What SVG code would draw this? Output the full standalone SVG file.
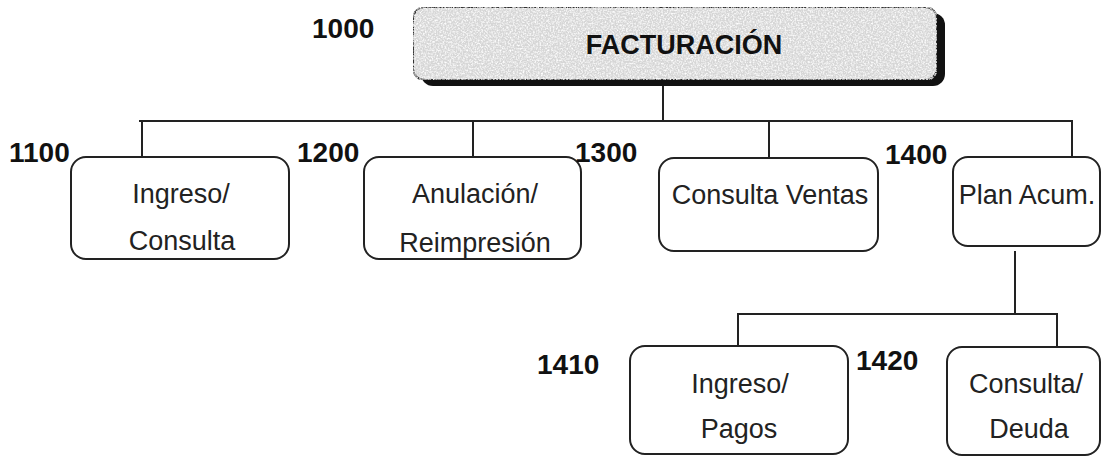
<svg xmlns="http://www.w3.org/2000/svg" width="1102" height="457" viewBox="0 0 1102 457">
  <defs>
    <filter id="grain" x="0" y="0" width="100%" height="100%">
      <feTurbulence type="fractalNoise" baseFrequency="0.6" numOctaves="2" seed="3" result="n"/>
      <feColorMatrix in="n" type="matrix" values="0 0 0 0 1  0 0 0 0 1  0 0 0 0 1  0 0 0 -2.2 1.35" result="w"/>
      <feComposite in="w" in2="SourceGraphic" operator="in" result="wc"/>
      <feMerge><feMergeNode in="SourceGraphic"/><feMergeNode in="wc"/></feMerge>
    </filter>
  </defs>
  <style>
    .box { fill: #ffffff; stroke: #222222; stroke-width: 2; }
    .lbl { font-family: "Liberation Sans", Arial, sans-serif; font-size: 27px; fill: #222222; text-anchor: middle; }
    .num { font-family: "Liberation Sans", Arial, sans-serif; font-size: 28px; font-weight: bold; fill: #111111; }
    .conn { stroke: #222222; stroke-width: 2; fill: none; }
  </style>
  <rect width="1102" height="457" fill="#ffffff"/>

  <g id="connectors">
    <line class="conn" x1="663" y1="85" x2="663" y2="121"/>
    <line class="conn" x1="139" y1="121" x2="1073" y2="121"/>
    <line class="conn" x1="142" y1="121" x2="142" y2="157"/>
    <line class="conn" x1="473" y1="121" x2="473" y2="157"/>
    <line class="conn" x1="769" y1="121" x2="769" y2="158"/>
    <line class="conn" x1="1072" y1="121" x2="1072" y2="157"/>
    <line class="conn" x1="1015" y1="251" x2="1015" y2="314"/>
    <line class="conn" x1="737" y1="314" x2="1058" y2="314"/>
    <line class="conn" x1="738" y1="314" x2="738" y2="346"/>
    <line class="conn" x1="1057" y1="314" x2="1057" y2="347"/>
  </g>

  <g id="n1000">
    <rect x="421" y="13" width="524" height="73" rx="12" fill="#111111"/>
    <rect x="413" y="7" width="524" height="73" rx="12" fill="#d6d6d6" stroke="#333333" stroke-width="2" filter="url(#grain)"/>
    <text class="num" x="312" y="38">1000</text>
    <text x="684" y="54" font-family="Liberation Sans, Arial, sans-serif" font-size="27" font-weight="bold" fill="#111111" text-anchor="middle">FACTURACIÓN</text>
  </g>

  <g id="n1100">
    <rect class="box" x="71" y="157" width="218" height="102" rx="15"/>
    <text class="num" x="9" y="162">1100</text>
    <text class="lbl" x="181" y="203">Ingreso/</text>
    <text class="lbl" x="182" y="250">Consulta</text>
  </g>

  <g id="n1200">
    <rect class="box" x="364" y="157" width="217" height="102" rx="15"/>
    <text class="num" x="297" y="162">1200</text>
    <text class="lbl" x="475" y="203">Anulación/</text>
    <text class="lbl" x="475" y="252">Reimpresión</text>
  </g>

  <g id="n1300">
    <rect class="box" x="659" y="158" width="219" height="93" rx="15"/>
    <text class="num" x="575" y="162">1300</text>
    <text class="lbl" x="770" y="204">Consulta Ventas</text>
  </g>

  <g id="n1400">
    <rect class="box" x="953" y="157" width="147" height="89" rx="15"/>
    <text class="num" x="885" y="164">1400</text>
    <text class="lbl" x="1027" y="204">Plan Acum.</text>
  </g>

  <g id="n1410">
    <rect class="box" x="630" y="346" width="218" height="108" rx="15"/>
    <text class="num" x="537" y="374">1410</text>
    <text class="lbl" x="740" y="393">Ingreso/</text>
    <text class="lbl" x="739" y="438">Pagos</text>
  </g>

  <g id="n1420">
    <rect class="box" x="947" y="347" width="153" height="108" rx="15"/>
    <text class="num" x="856" y="370">1420</text>
    <text class="lbl" x="1026" y="393">Consulta/</text>
    <text class="lbl" x="1029" y="438">Deuda</text>
  </g>
</svg>
